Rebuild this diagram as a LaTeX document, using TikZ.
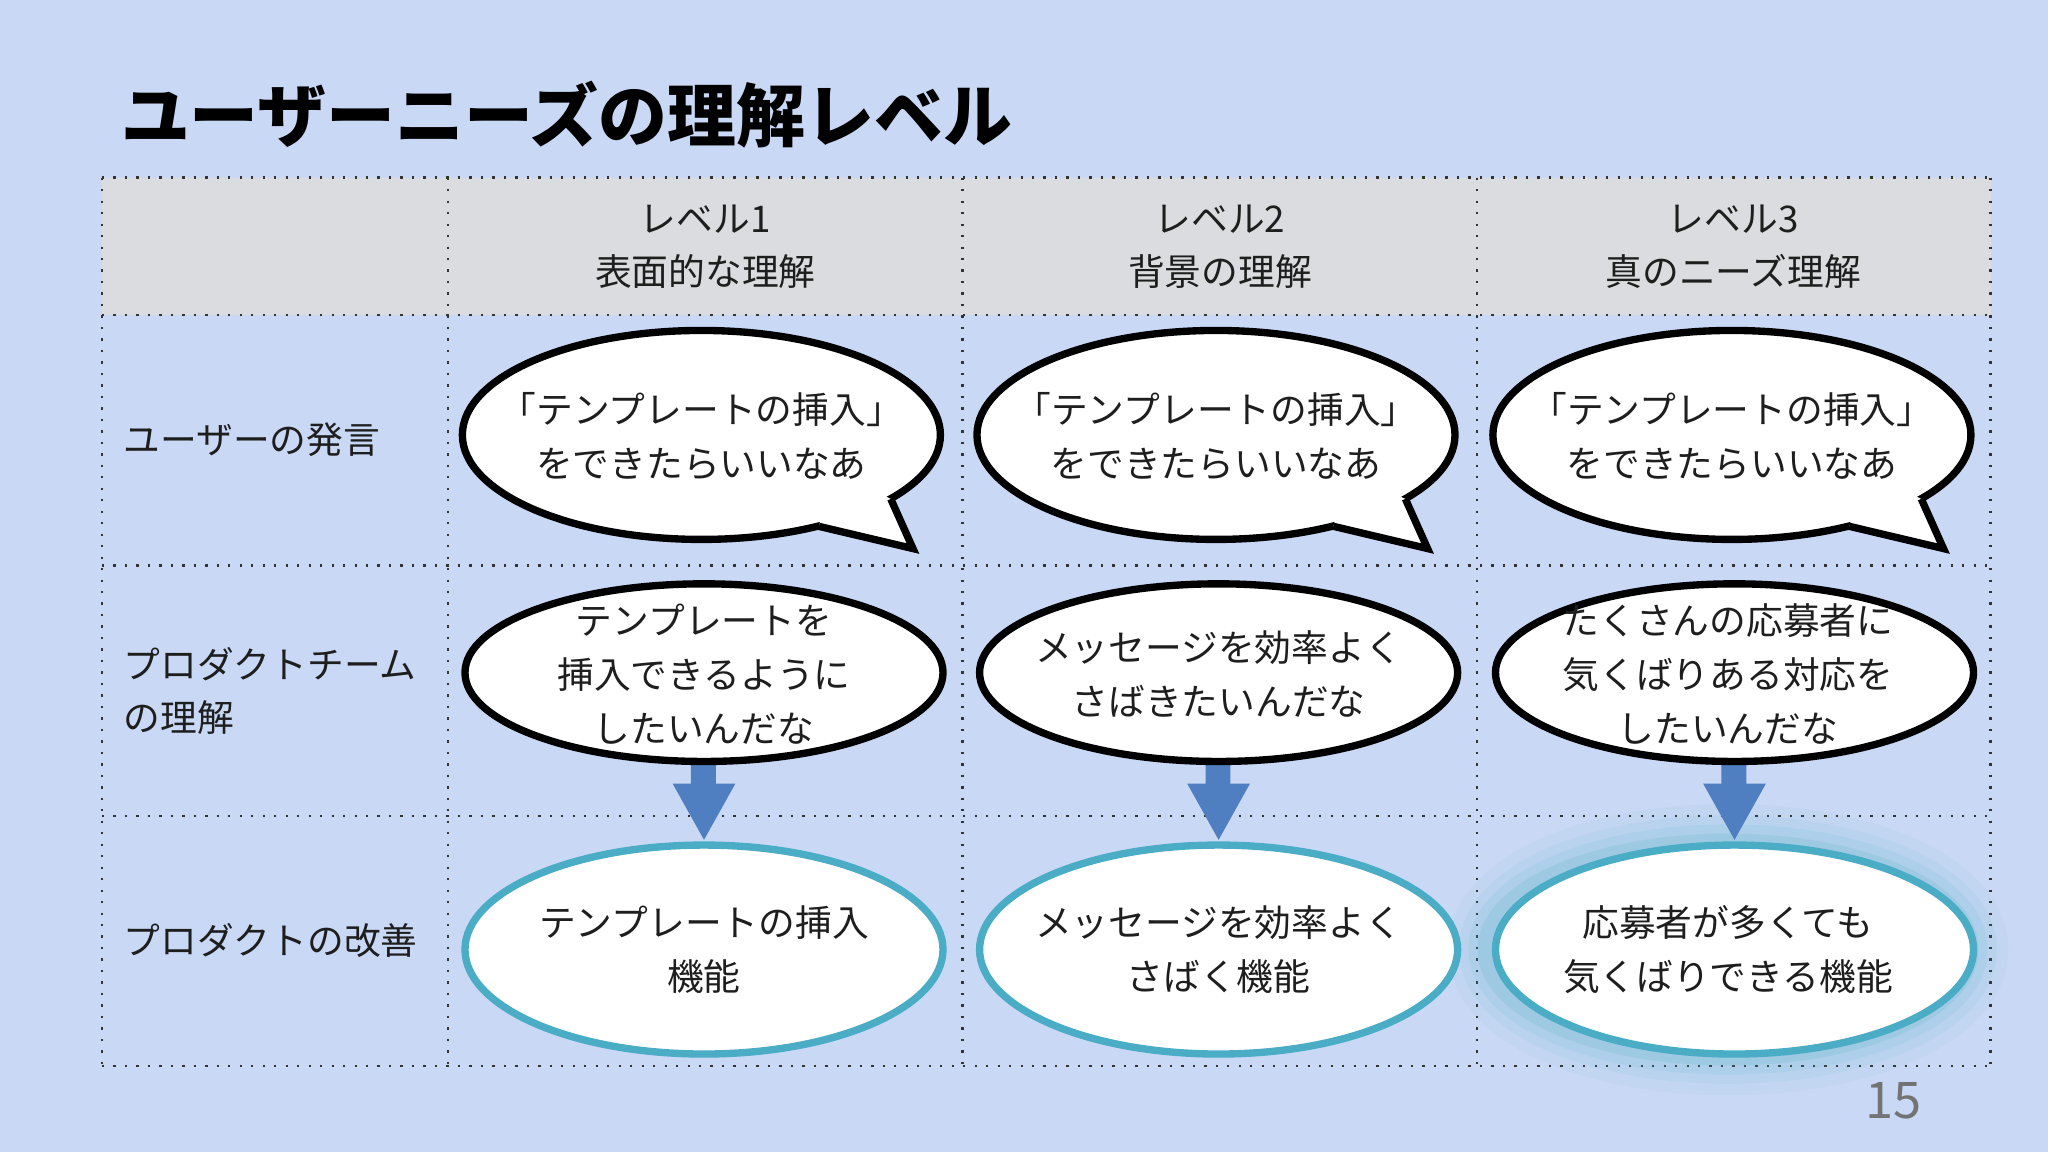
\documentclass[tikz,border=0pt]{standalone}
\usepackage{fontspec}
\setmainfont{Noto Sans CJK JP}
\usetikzlibrary{calc}
\definecolor{bg}{HTML}{C9D9F5}
\definecolor{hdr}{HTML}{DADCDF}
\definecolor{cyanb}{HTML}{4BACC6}
\definecolor{arr}{HTML}{4F7FC0}
\definecolor{txt}{HTML}{1E1E1E}
\tikzset{
 grid/.style={draw=black!80,line width=0.5pt,dotted},
 bub/.style={draw=black,line width=1.6pt,fill=white},
 res/.style={draw=cyanb,line width=1.6pt,fill=white},
 lab/.style={text=txt,font=\fontsize{8}{11.7}\selectfont,align=center},
 rowlab/.style={text=txt,font=\fontsize{8}{11.7}\selectfont,align=left,anchor=west,inner sep=0pt},
 blk/.style={fill=arr,draw=none}
}
\begin{document}
\begin{tikzpicture}[x=0.01cm,y=-0.01cm]
\useasboundingbox (0,0) rectangle (1568,882);
\fill[bg] (0,0) rectangle (1568,882);
\node[anchor=west,inner sep=0pt,text=black,font=\fontsize{15}{17}\selectfont\bfseries] (title) at (92,88) {ユーザーニーズの理解レベル};
\fill[hdr] (78,136) rectangle (1524,241);
\foreach \x in {78,343,737,1131,1524} \draw[grid] (\x,136) -- (\x,816);
\foreach \y in {136,241,433,625,816} \draw[grid] (78,\y) -- (1524,\y);
\node[lab] (h1) at (540,189) {レベル1\\表面的な理解};
\node[lab] (h2) at (934,189) {レベル2\\背景の理解};
\node[lab] (h3) at (1327,189) {レベル3\\真のニーズ理解};
\node[rowlab] (r1) at (94,337) {ユーザーの発言};
\node[rowlab] (r2) at (94,529) {プロダクトチーム\\の理解};
\node[rowlab] (r3) at (94,720) {プロダクトの改善};
% glow
\foreach \w/\o in {18/0.05,13/0.07,9/0.1,5/0.15} \draw[cyanb,line width=\w pt,opacity=\o] (1323,727) ellipse (183 and 80);
\foreach \i/\cx in {1/537,2/931,3/1326}{
 \draw[bub] (\cx,333) ellipse (183 and 80);
 \fill[white] (\cx+90,403) -- (\cx+162,420) -- (\cx+145,382) -- (\cx+100,360) -- cycle;
 \draw[line width=1.6pt,line join=miter] (\cx+90,403) -- (\cx+162,420) -- (\cx+145,382);
 \fill[blk] (\cx-8,585) -- (\cx+11,585) -- (\cx+11,600) -- (\cx+26,600) -- (\cx+2,643) -- (\cx-22,600) -- (\cx-8,600) -- cycle;
 \draw[bub] (\cx+2,515) ellipse (183 and 68);
 \draw[res] (\cx+2,727) ellipse (183 and 80);
}
\node[lab] (s1) at (537,334) {「テンプレートの挿入」\\をできたらいいなあ};
\node[lab] (s2) at (931,334) {「テンプレートの挿入」\\をできたらいいなあ};
\node[lab] (s3) at (1326,334) {「テンプレートの挿入」\\をできたらいいなあ};
\node[lab] (t1) at (539,516) {テンプレートを\\挿入できるように\\したいんだな};
\node[lab] (t2) at (933,516) {メッセージを効率よく\\さばきたいんだな};
\node[lab] (t3) at (1323,516) {たくさんの応募者に\\気くばりある対応を\\したいんだな};
\node[lab] (p1) at (539,727) {テンプレートの挿入\\機能};
\node[lab] (p2) at (933,727) {メッセージを効率よく\\さばく機能};
\node[lab] (p3) at (1323,727) {応募者が多くても\\気くばりできる機能};
\node[text=black!55,font=\fontsize{11}{12}\selectfont] (pg) at (1450,843) {15};
\end{tikzpicture}
\end{document}
